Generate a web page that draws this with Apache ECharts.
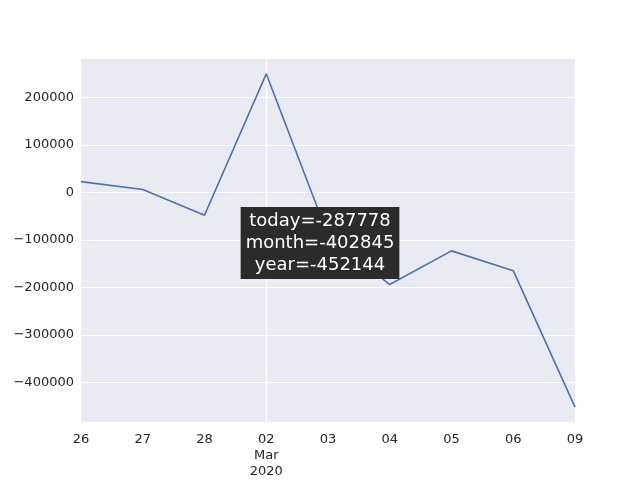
<!DOCTYPE html>
<html><head><meta charset="utf-8">
<script src="https://cdn.jsdelivr.net/npm/echarts@6/dist/echarts.min.js"></script>
<style>html,body{margin:0;padding:0;background:#fff}#c{width:640px;height:480px}</style>
</head><body><div id="c"></div>
<script>
const categories = ['26','27','28','02\nMar\n2020','03','04','05','06','09'];
const values = [22900, 6250, -47900, 250000, -90000, -193750, -122900, -164600, -452144];
const yTicks = [-400000,-300000,-200000,-100000,0,100000,200000];
const annotation = 'today=-287778\nmonth=-402845\nyear=-452144';

const chart = echarts.init(document.getElementById('c'));
chart.setOption({
  animation:false,
  backgroundColor:'#fff',
  grid:{left:81,right:65,top:59,bottom:55,show:true,backgroundColor:'#eaeaf2',borderWidth:0},
  xAxis:{type:'value',min:0,max:8,interval:1,
    axisLine:{show:false},axisTick:{show:false},splitLine:{show:false},
    axisLabel:{fontFamily:'DejaVu Sans',fontSize:13,color:'#262626',margin:10,lineHeight:16,
      formatter:v=>categories[v]}},
  yAxis:{type:'value',min:-483333,max:281250,
    axisLine:{show:false},axisTick:{show:false},
    axisLabel:{fontFamily:'DejaVu Sans',fontSize:13,color:'#262626',margin:7,
      customValues:yTicks, formatter:v=>String(v).replace('-','\u2212')},
    splitLine:{show:false}},
  series:[
    {type:'line',data:[],z:1,
     markLine:{silent:true,symbol:'none',label:{show:false},z:1,
      lineStyle:{color:'#fff',type:'solid',width:1.2},
      data:[{xAxis:3}].concat(yTicks.map(t=>({yAxis:t})))}},
    {type:'line',data:values.map((v,i)=>[i,v]),showSymbol:false,
    lineStyle:{color:'#4c72b0',width:1.6},z:3}],
  graphic:[{type:'text',x:320,y:207,z:10,
    style:{text:annotation,fill:'#fff',font:'18px DejaVu Sans',align:'center',verticalAlign:'top',lineHeight:22,
      backgroundColor:'#2b2b2b',padding:[3,5,3,5]}}]
});
</script></body></html>
